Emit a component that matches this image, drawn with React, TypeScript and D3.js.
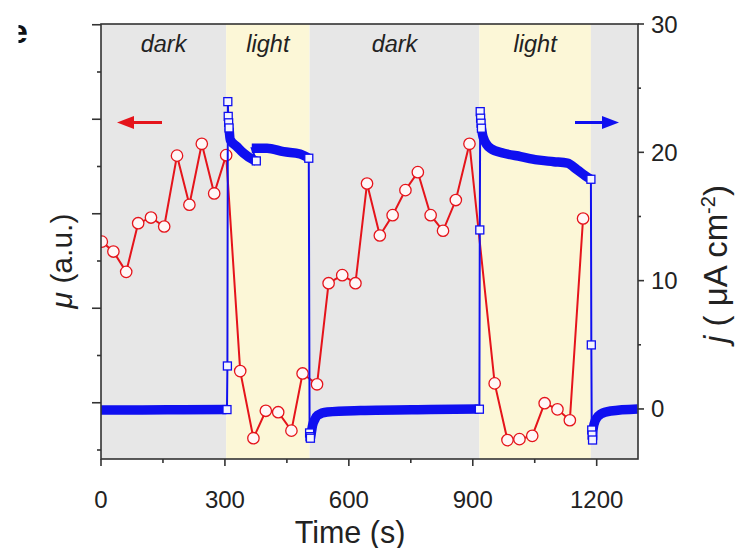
import React from "react";
import * as d3 from "d3";

// ---------- data ----------
const regionStarts = [0, 303, 505, 916, 1186];
const regionEnds = [303, 505, 916, 1186, 1300];
const regionKinds = ["dark", "light", "dark", "light", "dark"];
const regionLabels = ["dark", "light", "dark", "light", ""];

// signal mu (a.u.), left axis
const muTimes = [2, 30, 61, 90, 121, 153, 184, 214, 244, 274, 303, 337, 369, 399, 429, 461, 488, 523, 551, 584, 616, 644, 675, 706, 737, 767, 798, 828, 859, 892, 953, 984, 1013, 1044, 1074, 1105, 1135, 1167];
const muValues = [4.41, 4.2, 3.77, 4.8, 4.92, 4.73, 6.23, 5.19, 6.48, 5.43, 6.24, 1.67, 0.25, 0.83, 0.8, 0.41, 1.62, 1.39, 3.53, 3.7, 3.53, 5.64, 4.54, 4.97, 5.5, 5.88, 4.97, 4.64, 5.29, 6.48, 1.41, 0.21, 0.23, 0.3, 0.99, 0.86, 0.63, 4.9];

// photocurrent j (uA cm-2), right axis: dense (continuous) traces
const bandDark1: [number, number][] = [[0, -0.08], [100, -0.08], [200, -0.06], [304, -0.05]];
const bandLightA: [number, number][] = [[310, 21.9], [313, 20.97], [329, 20.44], [345, 19.93], [369, 19.41], [376, 19.33]];
const bandLightB: [number, number][] = [[365, 20.32], [402, 20.32], [442, 20.05], [482, 19.87], [503, 19.54]];
const bandDark2: [number, number][] = [[507, -2.28], [509, -1.9], [512, -1.3], [518, -0.8], [524, -0.5], [548, -0.23], [628, -0.12], [798, -0.04], [914, 0]];
const bandLight2: [number, number][] = [[921, 21.88], [925, 21.2], [943, 20.3], [975, 19.93], [1016, 19.67], [1056, 19.41], [1096, 19.27], [1129, 19.15], [1153, 18.63], [1173, 18.16], [1186, 17.9]];
const bandDark3: [number, number][] = [[1190, -2.42], [1191, -1.64], [1197, -0.86], [1210, -0.39], [1234, -0.16], [1299, 0]];

// individually visible samples (hollow squares)
const jMarkTimes = [305, 306, 307, 308, 309, 310, 376, 503, 505, 506, 507, 916, 917, 918, 919, 920, 921, 1186, 1187, 1188, 1189, 1190];
const jMarkValues = [-0.05, 3.35, 23.95, 22.8, 22.3, 21.9, 19.33, 19.54, -1.87, -2.16, -2.28, -0.02, 13.95, 23.17, 22.66, 22.27, 21.88, 17.9, 4.99, -1.64, -2.03, -2.42];

const xTicks = [0, 300, 600, 900, 1200];
const xMinor = [150, 450, 750, 1050];
const jTicks = [0, 10, 20, 30];
const jMinor = [5, 15, 25];
const muTickValues = [0, 1, 2, 3, 4, 5, 6, 7, 8, 9];

// ---------- layout ----------
const W = 745;
const H = 548;
const L = 101, R = 638, T = 24, B = 459;
const FONT = "'Liberation Sans', Arial, sans-serif";
const BLUE = "#0f0ff0";
const RED = "#e5141b";

export default function App() {
  const x = d3.scaleLinear().domain([0, 1300]).range([L, R]);
  const yMu = d3.scaleLinear().domain([(450 - B) / 47.25, (450 - T) / 47.25]).range([B, T]);
  const yJ = d3.scaleLinear().domain([-3.9, 30]).range([B, T]);

  const bandLine = d3
    .line<[number, number]>()
    .x((d) => x(d[0]))
    .y((d) => yJ(d[1]))
    .curve(d3.curveMonotoneX);

  const allJ: [number, number][] = [
    ...bandDark1,
    ...jMarkTimes.slice(0, 6).map((t, i) => [t, jMarkValues[i]] as [number, number]),
    ...bandLightA,
    ...bandLightB,
    ...jMarkTimes.slice(8, 11).map((t, i) => [t, jMarkValues[8 + i]] as [number, number]),
    ...bandDark2,
    ...jMarkTimes.slice(11, 17).map((t, i) => [t, jMarkValues[11 + i]] as [number, number]),
    ...bandLight2,
    ...jMarkTimes.slice(17, 22).map((t, i) => [t, jMarkValues[17 + i]] as [number, number]),
    ...bandDark3,
  ];
  const thinLine = d3
    .line<[number, number]>()
    .x((d) => x(d[0]))
    .y((d) => yJ(d[1]));

  const muLine = d3
    .line<number>()
    .x((_, i) => x(muTimes[i]))
    .y((d) => yMu(d));

  const bands = [bandDark1, bandLightA, bandLightB, bandDark2, bandLight2, bandDark3];
  const sq = 8;

  return (
    <svg
      width={W}
      height={H}
      style={{ position: "absolute", left: 0, top: 0, background: "#fff" }}
      fontFamily={FONT}
    >
      <defs>
        <clipPath id="plot">
          <rect x={L} y={T} width={R - L} height={B - T} />
        </clipPath>
        <clipPath id="eclip">
          <rect x={18.5} y={15} width={12} height={40} />
        </clipPath>
      </defs>

      {/* cropped panel letter */}
      <text x={9} y={43} fontSize={34} fontWeight="bold" fill="#111" clipPath="url(#eclip)">
        e
      </text>

      {/* background regions */}
      {regionStarts.map((s, i) => (
        <rect
          key={"r" + i}
          x={x(s)}
          y={T}
          width={x(regionEnds[i]) - x(s)}
          height={B - T}
          fill={regionKinds[i] === "dark" ? "#e7e7e7" : "#fcf7d7"}
        />
      ))}
      {regionStarts.map((s, i) =>
        regionLabels[i] ? (
          <text
            key={"rl" + i}
            x={x((s + regionEnds[i]) / 2)}
            y={52}
            fontSize={23.5}
            fontStyle="italic"
            textAnchor="middle"
            fill="#222"
          >
            {regionLabels[i]}
          </text>
        ) : null
      )}

      <g clipPath="url(#plot)">
        {/* mu series */}
        <path d={muLine(muValues) || ""} fill="none" stroke={RED} strokeWidth={2} />
        {muValues.map((v, i) => (
          <circle
            key={"m" + i}
            cx={x(muTimes[i])}
            cy={yMu(v)}
            r={5.7}
            fill="#fff7f7"
            stroke={RED}
            strokeWidth={1.3}
          />
        ))}

        {/* j series */}
        <path d={thinLine(allJ) || ""} fill="none" stroke={BLUE} strokeWidth={2} />
        {bands.map((b, i) => (
          <path
            key={"b" + i}
            d={bandLine(b) || ""}
            fill="none"
            stroke={BLUE}
            strokeWidth={9.5}
            strokeLinejoin="round"
          />
        ))}
        {jMarkTimes.map((t, i) => (
          <rect
            key={"s" + i}
            x={x(t) - sq / 2}
            y={yJ(jMarkValues[i]) - sq / 2}
            width={sq}
            height={sq}
            fill="#f4f4ff"
            stroke={BLUE}
            strokeWidth={1.3}
          />
        ))}
      </g>

      {/* arrows */}
      <line x1={130} y1={122.5} x2={162} y2={122.5} stroke={RED} strokeWidth={3} />
      <polygon points={`117,122.5 134,116 134,129`} fill={RED} />
      <line x1={575} y1={122.5} x2={606} y2={122.5} stroke={BLUE} strokeWidth={3} />
      <polygon points={`619,122.5 602,116 602,129`} fill={BLUE} />

      {/* frame */}
      <rect x={L} y={T} width={R - L} height={B - T} fill="none" stroke="#333" strokeWidth={1.6} />

      {/* left ticks */}
      {muTickValues.map((v) => (
        <line
          key={"lt" + v}
          x1={L}
          x2={L - (v % 2 === 1 ? 9 : 4)}
          y1={yMu(v)}
          y2={yMu(v)}
          stroke="#333"
          strokeWidth={1.6}
        />
      ))}

      {/* bottom ticks */}
      {xTicks.map((t) => (
        <g key={"xt" + t}>
          <line x1={x(t)} x2={x(t)} y1={B} y2={B + 7} stroke="#333" strokeWidth={1.6} />
          <text x={x(t)} y={508} fontSize={24} textAnchor="middle" fill="#222">
            {t}
          </text>
        </g>
      ))}
      {xMinor.map((t) => (
        <line key={"xm" + t} x1={x(t)} x2={x(t)} y1={B} y2={B + 4} stroke="#333" strokeWidth={1.6} />
      ))}

      {/* right ticks */}
      {jTicks.map((v) => (
        <g key={"jt" + v}>
          <line x1={R} x2={R + 6} y1={yJ(v)} y2={yJ(v)} stroke="#333" strokeWidth={1.6} />
          <text x={651} y={yJ(v) + 8.5} fontSize={24} fill="#222">
            {v}
          </text>
        </g>
      ))}
      {jMinor.map((v) => (
        <line key={"jm" + v} x1={R} x2={R + 3} y1={yJ(v)} y2={yJ(v)} stroke="#333" strokeWidth={1.6} />
      ))}

      {/* axis titles */}
      <text x={350} y={543} fontSize={30.5} textAnchor="middle" fill="#222">
        Time (s)
      </text>
      <text transform="translate(72,261) rotate(-90)" fontSize={30} textAnchor="middle" fill="#222">
        <tspan fontStyle="italic">μ</tspan> (a.u.)
      </text>
      <text transform="translate(727,264) rotate(-90)" fontSize={33} textAnchor="middle" fill="#222">
        <tspan fontStyle="italic">j</tspan> ( μA cm
        <tspan dy={-12} fontSize={20}>-2</tspan>
        <tspan dy={12}>)</tspan>
      </text>
    </svg>
  );
}
